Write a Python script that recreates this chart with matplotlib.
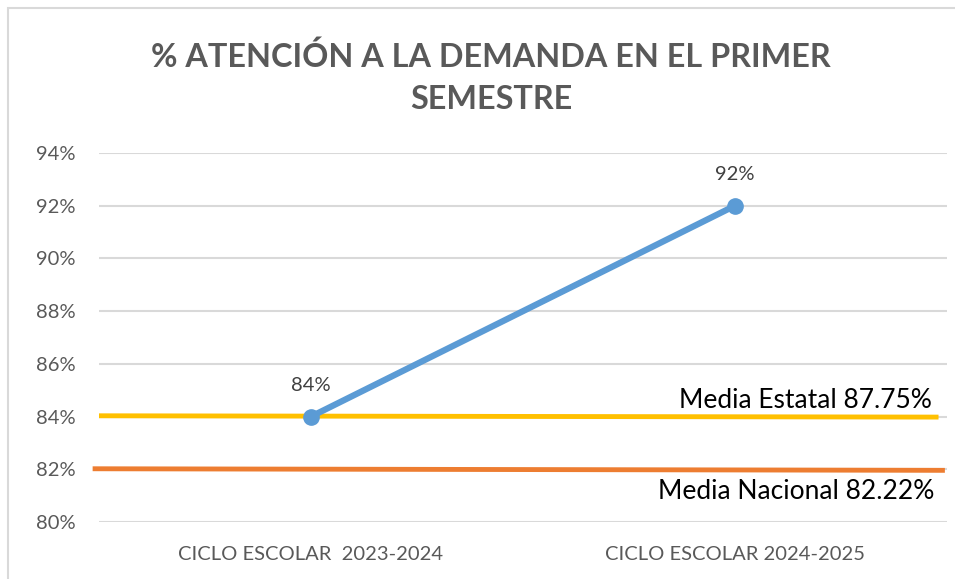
import matplotlib
matplotlib.use("Agg")
import matplotlib.pyplot as plt
from matplotlib.patches import Rectangle
from matplotlib.ticker import FuncFormatter

categories = ["CICLO ESCOLAR  2023-2024", "CICLO ESCOLAR 2024-2025"]
atencion = [84, 92]
data_labels = ["84%", "92%"]
estatal_line = [84.03, 83.98]
nacional_line = [82.02, 81.96]
estatal_label = "Media Estatal 87.75%"
nacional_label = "Media Nacional 82.22%"
title = "% ATENCIÓN A LA DEMANDA EN EL PRIMER\nSEMESTRE"
yticks = [80, 82, 84, 86, 88, 90, 92, 94]

plt.rcParams['font.family'] = ['Lato', 'DejaVu Sans']

W, H = 955, 579
fig = plt.figure(figsize=(W / 100, H / 100), dpi=100)
fig.patch.set_facecolor("white")

# chart border
fig.patches.append(Rectangle((8 / W, -0.1), 1.2, (H - 8) / H + 0.1, transform=fig.transFigure,
                             fill=False, edgecolor="#D9D9D9", linewidth=1.5))

ax = fig.add_axes([99 / W, 57 / H, (947 - 99) / W, (522 - 153) / H])
ax.set_xlim(-0.5, 1.5)
ax.set_ylim(80, 94)
ax.set_yticks(yticks)
ax.yaxis.set_major_formatter(FuncFormatter(lambda v, p: f"{v:.0f}%"))
ax.grid(axis="y", color="#D9D9D9", linewidth=1.5)
ax.set_axisbelow(True)
for s in ax.spines.values():
    s.set_visible(False)
ax.tick_params(axis="both", length=0, colors="#595959")
ax.tick_params(axis="y", pad=17, labelsize=14.5)
ax.tick_params(axis="x", pad=17, labelsize=14.5)
x = [0, 1]
ax.set_xticks(x)
ax.set_xticklabels(categories)

# reference lines
ax.plot([-0.5, 1.48], estatal_line, color="#FFC000", linewidth=3.5, solid_capstyle="butt", clip_on=False, zorder=2)
ax.plot([-0.515, 1.495], nacional_line, color="#ED7D31", linewidth=3.5, solid_capstyle="butt", clip_on=False, zorder=2)

ax.plot(x, atencion, color="#5B9BD5", linewidth=4.5, marker="o", markersize=11,
        solid_capstyle="round", zorder=3)
for xi, yi, lab in zip(x, atencion, data_labels):
    ax.annotate(lab, (xi, yi), xytext=(0, 16), textcoords="offset points",
                ha="center", va="bottom", fontsize=14.5, color="#404040")

ax.annotate(estatal_label, (1.465, estatal_line[1]), xytext=(0, 3), textcoords="offset points",
            ha="right", va="bottom", fontsize=19, color="black")
ax.annotate(nacional_label, (1.47, nacional_line[1]), xytext=(0, -6), textcoords="offset points",
            ha="right", va="top", fontsize=19, color="black")

fig.text(491 / W, 1 - 78 / H, title, ha="center", va="center", fontsize=23.3,
         fontweight="bold", color="#595959", linespacing=1.55)

fig.savefig("out.png", dpi=100)
